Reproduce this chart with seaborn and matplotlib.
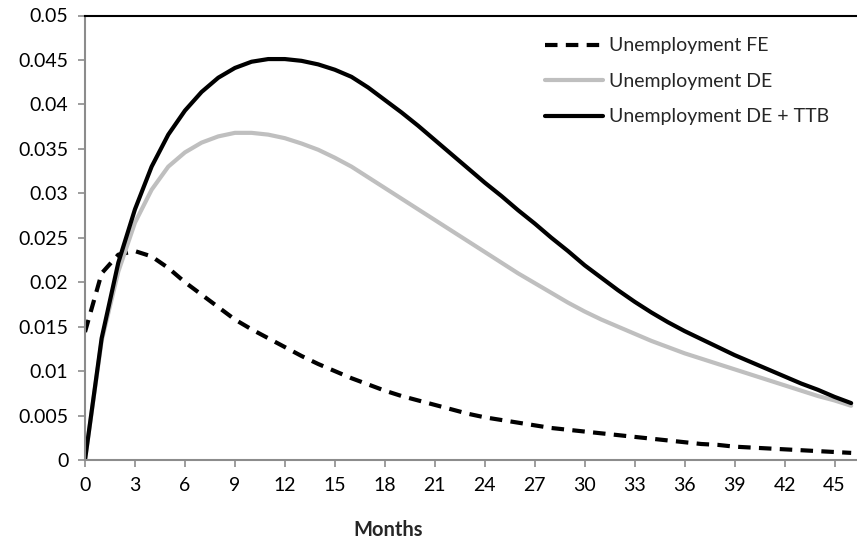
import matplotlib
matplotlib.use("Agg")
import matplotlib.pyplot as plt
import seaborn as sns
import pandas as pd

months = list(range(0, 47))

unemp_fe = [0.0144, 0.0210, 0.0231, 0.0235, 0.0229, 0.0216, 0.0200, 0.0186, 0.0172, 0.0158,
            0.0147, 0.0137, 0.0127, 0.0117, 0.0108, 0.0100, 0.0092, 0.0085, 0.0078, 0.0072,
            0.0067, 0.0062, 0.0057, 0.0052, 0.0048, 0.0045, 0.0042, 0.0039, 0.0036, 0.0034,
            0.0032, 0.0030, 0.0028, 0.0026, 0.0024, 0.0022, 0.0020, 0.0018, 0.0017, 0.0015,
            0.0014, 0.0013, 0.0012, 0.0011, 0.0010, 0.0009, 0.0008]

unemp_de = [0.0, 0.0134, 0.0212, 0.0267, 0.0304, 0.0330, 0.0346, 0.0357, 0.0364, 0.0368,
            0.0368, 0.0366, 0.0362, 0.0356, 0.0349, 0.0340, 0.0330, 0.0318, 0.0306, 0.0294,
            0.0282, 0.0270, 0.0258, 0.0246, 0.0234, 0.0222, 0.0210, 0.0199, 0.0188, 0.0177,
            0.0167, 0.0158, 0.0150, 0.0142, 0.0134, 0.0127, 0.0120, 0.0114, 0.0108, 0.0102,
            0.0096, 0.0090, 0.0084, 0.0078, 0.0072, 0.0067, 0.0061]

unemp_de_ttb = [0.0, 0.0137, 0.0222, 0.0282, 0.0330, 0.0366, 0.0393, 0.0414, 0.0430, 0.0441,
                0.0448, 0.0451, 0.0451, 0.0449, 0.0445, 0.0439, 0.0431, 0.0419, 0.0405, 0.0391,
                0.0376, 0.0360, 0.0344, 0.0328, 0.0312, 0.0297, 0.0281, 0.0266, 0.0250, 0.0235,
                0.0219, 0.0205, 0.0191, 0.0178, 0.0166, 0.0155, 0.0145, 0.0136, 0.0127, 0.0118,
                0.0110, 0.0102, 0.0094, 0.0086, 0.0079, 0.0071, 0.0064]

labels = ["Unemployment FE", "Unemployment DE", "Unemployment DE + TTB"]
x_ticks = list(range(0, 46, 3))
y_ticks = [0, 0.005, 0.01, 0.015, 0.02, 0.025, 0.03, 0.035, 0.04, 0.045, 0.05]
y_tick_labels = ["0", "0.005", "0.01", "0.015", "0.02", "0.025", "0.03", "0.035", "0.04", "0.045", "0.05"]

sns.set_theme(style="white")
plt.rcParams["font.family"] = ["Lato", "DejaVu Sans"]

fig = plt.figure(figsize=(8.57, 5.42), dpi=100)
ax = fig.add_axes([85 / 857, 1 - 460 / 542, 1 - 85 / 857, (460 - 15.5) / 542])

df = pd.DataFrame({"Months": months, "FE": unemp_fe, "DE": unemp_de, "TTB": unemp_de_ttb})

sns.lineplot(data=df, x="Months", y="FE", ax=ax, color="black", linewidth=3, label=labels[0])
ax.lines[-1].set_dashes([3, 2])
sns.lineplot(data=df, x="Months", y="DE", ax=ax, color="#BFBFBF", linewidth=3, label=labels[1])
sns.lineplot(data=df, x="Months", y="TTB", ax=ax, color="black", linewidth=3, label=labels[2])

ax.set_xlim(0, 46.35)
ax.set_ylim(0, 0.05)
ax.set_xticks(x_ticks)
ax.set_xticklabels([str(v) for v in x_ticks])
ax.set_yticks(y_ticks)
ax.set_yticklabels(y_tick_labels)
ax.tick_params(axis="both", which="major", direction="out", length=5, width=1.2,
               color="#8C8C8C", labelsize=14, labelcolor="black", bottom=True, left=True, pad=7)
ax.set_xlabel("")
ax.set_ylabel("")

for side in ["left", "bottom"]:
    ax.spines[side].set_color("#8C8C8C")
    ax.spines[side].set_linewidth(1.5)
ax.spines["top"].set_color("black")
ax.spines["top"].set_linewidth(1.5)
ax.spines["right"].set_visible(False)

fig.text(388 / 857, 1 - 530 / 542, "Months", ha="center", va="center",
         fontsize=14.5, fontweight="bold")

leg = ax.legend(loc="upper left", bbox_to_anchor=((545 - 85) / (857 - 85), 1 - 22 / 444.5),
                frameon=False, fontsize=14, handlelength=3.0, handletextpad=0.3,
                labelspacing=0.95, borderaxespad=0, borderpad=0)
for h in leg.get_lines():
    h.set_linewidth(3)
leg.get_lines()[0].set_dashes([3, 2])

fig.savefig("out.png", dpi=100)
